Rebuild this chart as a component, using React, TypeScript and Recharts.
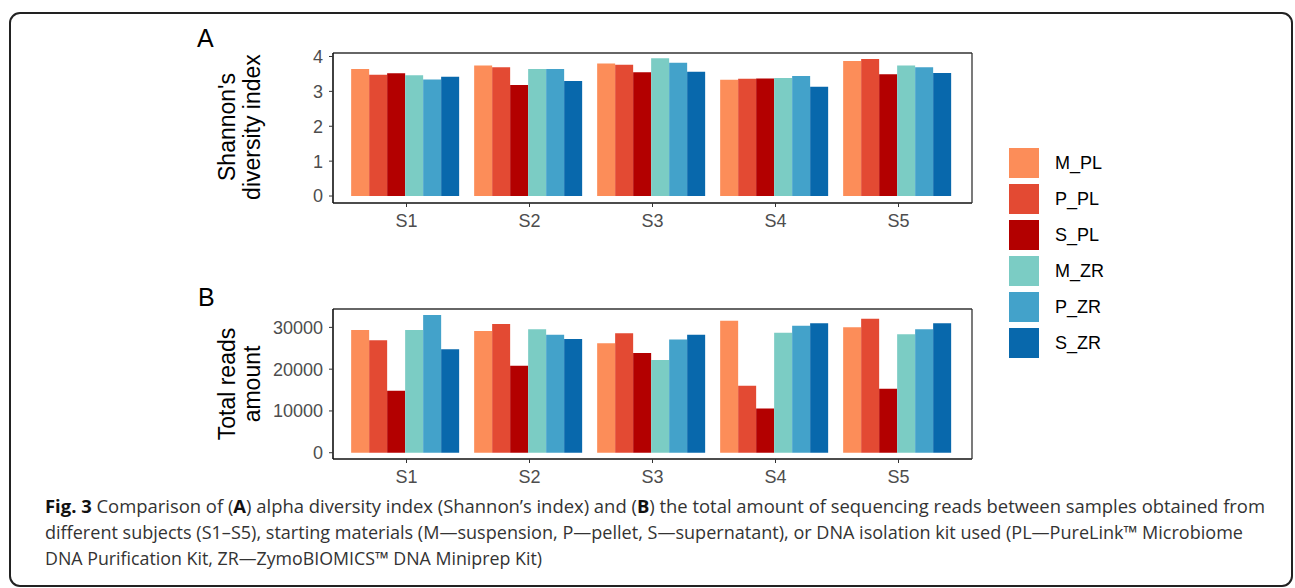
import React from "react";
import { BarChart, Bar, XAxis, YAxis } from "recharts";

// ── Data ────────────────────────────────────────────────────────────────────
const subjects = ["S1", "S2", "S3", "S4", "S5"];
const groups = ["M_PL", "P_PL", "S_PL", "M_ZR", "P_ZR", "S_ZR"];
const groupColors = ["#fc8d59", "#e34a33", "#b30000", "#7bccc4", "#43a2ca", "#0868ac"];

// panel A: Shannon's diversity index
const shannonMPL = [3.64, 3.74, 3.8, 3.33, 3.87];
const shannonPPL = [3.48, 3.69, 3.76, 3.36, 3.93];
const shannonSPL = [3.52, 3.18, 3.55, 3.37, 3.49];
const shannonMZR = [3.46, 3.64, 3.95, 3.38, 3.74];
const shannonPZR = [3.34, 3.64, 3.82, 3.44, 3.69];
const shannonSZR = [3.42, 3.3, 3.56, 3.13, 3.53];
const shannonTicks = [0, 1, 2, 3, 4];

// panel B: total reads amount
const readsMPL = [29370, 29130, 26180, 31600, 30010];
const readsPPL = [26900, 30800, 28570, 16040, 32080];
const readsSPL = [14840, 20830, 23860, 10610, 15320];
const readsMZR = [29370, 29530, 22190, 28730, 28330];
const readsPZR = [32960, 28250, 27130, 30410, 29530];
const readsSZR = [24740, 27210, 28250, 30970, 30970];
const readsTicks = [0, 10000, 20000, 30000];

const captionLines = [
    "different subjects (S1–S5), starting materials (M—suspension, P—pellet, S—supernatant), or DNA isolation kit used (PL—PureLink™ Microbiome",
    "DNA Purification Kit, ZR—ZymoBIOMICS™ DNA Miniprep Kit)",
];

function buildRows(series: number[][]) {
    return subjects.map((name, i) => {
        const row: Record<string, string | number> = { name };
        groups.forEach((g, gi) => {
            row[g] = series[gi][i];
        });
        return row;
    });
}

const shannonData = buildRows([shannonMPL, shannonPPL, shannonSPL, shannonMZR, shannonPZR, shannonSZR]);
const readsData = buildRows([readsMPL, readsPPL, readsSPL, readsMZR, readsPZR, readsSZR]);

const FONT = "'Liberation Sans', Arial, sans-serif";
const CAPTION_FONT = "'Open Sans', sans-serif";
const tickStyle = { fontSize: 18, fill: "#4d4d4d", fontFamily: FONT };

// ── One ggplot-like panel (box frame = 4 axis lines) ────────────────────────
function Panel({
    data, domain, ticks, top,
}: {
    data: Record<string, string | number>[];
    domain: [number, number];
    ticks: number[];
    top: number;
}) {
    return (
        <div style={{ position: "absolute", left: 0, top, width: 1000, height: 240 }}>
            <BarChart
                width={1000}
                height={240}
                data={data}
                margin={{ top: 52, right: 27, bottom: 7, left: 273 }}
                barCategoryGap="5%"
                barGap={0}
            >
                <XAxis
                    dataKey="name"
                    padding={{ left: 12, right: 12 }}
                    height={30}
                    tick={tickStyle}
                    tickSize={4}
                    tickMargin={7}
                    tickLine={{ stroke: "#333" }}
                    axisLine={{ stroke: "#111", strokeWidth: 1.6 }}
                />
                <XAxis
                    xAxisId="top"
                    orientation="top"
                    dataKey="name"
                    height={1}
                    tick={false}
                    tickLine={false}
                    axisLine={{ stroke: "#333", strokeWidth: 1.3 }}
                />
                <YAxis
                    type="number"
                    width={60}
                    domain={domain}
                    ticks={ticks}
                    allowDataOverflow
                    tick={tickStyle}
                    tickSize={4}
                    tickMargin={6}
                    tickLine={{ stroke: "#333" }}
                    axisLine={{ stroke: "#111", strokeWidth: 1.6 }}
                />
                <YAxis
                    yAxisId="right"
                    orientation="right"
                    type="number"
                    width={1}
                    domain={[0, 1]}
                    tick={false}
                    tickLine={false}
                    axisLine={{ stroke: "#333", strokeWidth: 1.3 }}
                />
                {groups.map((g, i) => (
                    <Bar key={g} dataKey={g} fill={groupColors[i]} isAnimationActive={false} />
                ))}
            </BarChart>
        </div>
    );
}

function AxisTitle({ lines, cy }: { lines: string[]; cy: number }) {
    return (
        <div
            style={{
                position: "absolute",
                left: 240 - 110,
                top: cy - 25,
                width: 220,
                height: 50,
                transform: "rotate(-90deg)",
                textAlign: "center",
                fontFamily: FONT,
                fontSize: 23,
                lineHeight: "25px",
                color: "#000",
            }}
        >
            {lines.map((l) => (
                <div key={l}>{l}</div>
            ))}
        </div>
    );
}

export default function App() {
    return (
        <div
            style={{
                position: "absolute",
                left: 0,
                top: 0,
                width: 1295,
                height: 588,
                background: "#fff",
                overflow: "hidden",
                fontFamily: FONT,
            }}
        >
            <div
                style={{
                    position: "absolute",
                    left: 9,
                    top: 12,
                    width: 1284,
                    height: 575,
                    border: "2px solid #222",
                    borderRadius: 11,
                    boxSizing: "border-box",
                }}
            />

            <div style={{ position: "absolute", left: 197, top: 24, fontSize: 25, color: "#000" }}>A</div>
            <div style={{ position: "absolute", left: 198, top: 283, fontSize: 25, color: "#000" }}>B</div>

            <AxisTitle lines={["Shannon's", "diversity index"]} cy={127} />
            <AxisTitle lines={["Total reads", "amount"]} cy={384} />

            <Panel data={shannonData} domain={[-0.2, 4.1]} ticks={shannonTicks} top={0} />
            <Panel data={readsData} domain={[-1500, 34400]} ticks={readsTicks} top={256} />

            {/* legend */}
            <div style={{ position: "absolute", left: 1009, top: 148 }}>
                {groups.map((g, i) => (
                    <div key={g} style={{ display: "flex", alignItems: "center", height: 36 }}>
                        <div style={{ width: 30, height: 30, background: groupColors[i], marginBottom: 6 }} />
                        <span style={{ marginLeft: 16, fontSize: 18, color: "#000", marginBottom: 6 }}>{g}</span>
                    </div>
                ))}
            </div>

            {/* caption */}
            <svg style={{ position: "absolute", left: 0, top: 0 }} width={1295} height={588}>
                <text
                    x={45}
                    y={513}
                    fontFamily={CAPTION_FONT}
                    fontSize={18.5}
                    fill="#333"
                    textLength={1220}
                    lengthAdjust="spacingAndGlyphs"
                >
                    <tspan fontWeight="bold" fill="#111">Fig. 3</tspan>
                    <tspan> Comparison of (</tspan>
                    <tspan fontWeight="bold" fill="#111">A</tspan>
                    <tspan>) alpha diversity index (Shannon’s index) and (</tspan>
                    <tspan fontWeight="bold" fill="#111">B</tspan>
                    <tspan>) the total amount of sequencing reads between samples obtained from</tspan>
                </text>
                <text
                    x={45}
                    y={539}
                    fontFamily={CAPTION_FONT}
                    fontSize={18.5}
                    fill="#333"
                    textLength={1198}
                    lengthAdjust="spacingAndGlyphs"
                >
                    {captionLines[0]}
                </text>
                <text
                    x={45}
                    y={565}
                    fontFamily={CAPTION_FONT}
                    fontSize={18.5}
                    fill="#333"
                    textLength={497}
                    lengthAdjust="spacingAndGlyphs"
                >
                    {captionLines[1]}
                </text>
            </svg>
        </div>
    );
}
